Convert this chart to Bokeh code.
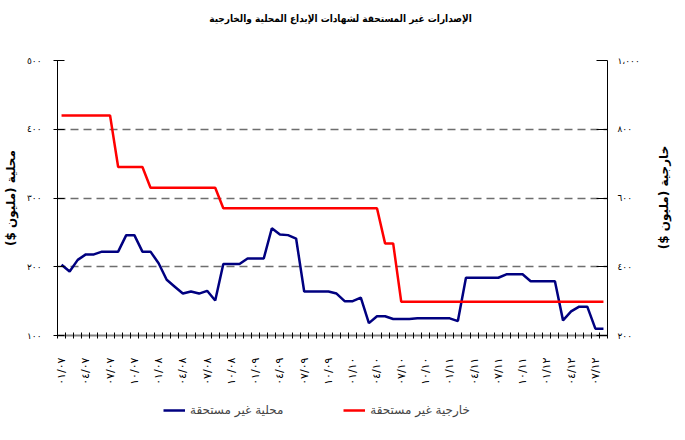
import math
from bokeh.plotting import figure
from bokeh.layouts import column, row
from bokeh.models import Range1d, LinearAxis, FixedTicker, Legend, LegendItem, Label
from bokeh.embed import file_html
from bokeh.resources import INLINE

# Monthly data, Jan 2007 .. Aug 2012
months = list(range(68))
local_vals = [203, 193, 210, 218, 218, 222, 222, 222, 246, 246, 222, 222,
              205, 181, 171, 161, 164, 161, 165, 151, 204, 204, 204, 212,
              212, 212, 256, 247, 246, 241, 164, 164, 164, 164, 161, 150,
              150, 155, 118, 128, 128, 124, 124, 124, 125, 125, 125, 125,
              125, 121, 184, 184, 184, 184, 184, 189, 189, 189, 179, 179,
              179, 179, 122, 135, 142, 142, 110, 110]
foreign_vals = [840, 840, 840, 840, 840, 840, 840, 690, 690, 690, 690, 630,
                630, 630, 630, 630, 630, 630, 630, 630, 570, 570, 570, 570,
                570, 570, 570, 570, 570, 570, 570, 570, 570, 570, 570, 570,
                570, 570, 570, 570, 468, 468, 298, 298, 298, 298, 298, 298,
                298, 298, 298, 298, 298, 298, 298, 298, 298, 298, 298, 298,
                298, 298, 298, 298, 298, 298, 298, 298]

quarter_pos = list(range(0, 67, 3))
quarter_labels = ["٠١/٠٧", "٠٤/٠٧", "٠٧/٠٧", "١٠/٠٧",
                  "٠١/٠٨", "٠٤/٠٨", "٠٧/٠٨", "١٠/٠٨",
                  "٠١/٠٩", "٠٤/٠٩", "٠٧/٠٩", "١٠/٠٩",
                  "٠١/١٠", "٠٤/١٠", "٠٧/١٠", "١٠/١٠",
                  "٠١/١١", "٠٤/١١", "٠٧/١١", "١٠/١١",
                  "٠١/١٢", "٠٤/١٢", "٠٧/١٢"]
left_ticks = [100, 200, 300, 400, 500]
left_labels = ["١٠٠", "٢٠٠", "٣٠٠", "٤٠٠", "٥٠٠"]
right_ticks = [200, 400, 600, 800, 1000]
right_labels = ["٢٠٠", "٤٠٠", "٦٠٠", "٨٠٠", "١،٠٠٠"]

title_text = "الإصدارات غير المستحقة لشهادات الإيداع المحلية والخارجية"
left_title = "محلية (مليون $)"
right_title = "خارجية (مليون $)"
local_name = "محلية غير مستحقة"
foreign_name = "خارجية غير مستحقة"

FONT = "DejaVu Sans"
TFONT = "DejaVu Sans Condensed"
W = 680
H_TOP, H_MAIN, H_LEG = 36, 356, 40
W_MAIN, W_RLAB = 650, 30
BORDER_BOTTOM = H_MAIN - (335 - H_TOP)


def blank_fig(width, height):
    f = figure(width=width, height=height, x_range=Range1d(0, 1), y_range=Range1d(0, 1),
               output_backend="svg", toolbar_location=None,
               x_axis_location=None, y_axis_location=None, min_border=0)
    f.outline_line_color = None
    f.xgrid.visible = False
    f.ygrid.visible = False
    return f


# ---- title strip
t = blank_fig(W, H_TOP)
t.add_layout(Label(x=340, y=18, x_units="screen", y_units="screen", text=title_text,
                   text_align="center", text_baseline="middle", text_font=TFONT,
                   text_font_size="10px", text_font_style="bold", text_color="black"))

# ---- main chart
p = figure(width=W_MAIN, height=H_MAIN, x_range=Range1d(-0.5, 67.5), y_range=Range1d(100, 500),
           output_backend="svg", toolbar_location=None,
           min_border_left=57, min_border_right=W_MAIN - 607, min_border_top=60 - H_TOP,
           min_border_bottom=BORDER_BOTTOM)
p.outline_line_color = None
p.extra_y_ranges = {"right": Range1d(200, 1000)}

# x axis
xa = p.xaxis[0]
xa.ticker = FixedTicker(ticks=quarter_pos, minor_ticks=[i - 0.5 for i in range(69)])
xa.major_label_overrides = {pos: lab for pos, lab in zip(quarter_pos, quarter_labels)}
xa.major_label_orientation = math.pi / 2
xa.major_tick_line_color = None
xa.major_tick_in = 0
xa.major_tick_out = 0
xa.minor_tick_in = 3
xa.minor_tick_out = 3
xa.minor_tick_line_color = "black"
xa.axis_line_color = "#808080"
xa.axis_line_width = 2
xa.major_label_standoff = 19
xa.major_label_text_font = FONT
xa.major_label_text_font_size = "11px"
xa.major_label_text_color = "black"

# left axis
ya = p.yaxis[0]
ya.ticker = FixedTicker(ticks=left_ticks)
ya.major_label_overrides = {t_: l for t_, l in zip(left_ticks, left_labels)}
ya.major_tick_in = 7
ya.major_tick_out = 4
ya.minor_tick_line_color = None
ya.axis_line_color = "black"
ya.major_label_standoff = 12
ya.major_label_text_font = FONT
ya.major_label_text_font_size = "9px"
ya.major_label_text_color = "black"
ya.axis_label = left_title
ya.axis_label_text_font = FONT
ya.axis_label_text_font_size = "12px"
ya.axis_label_text_font_style = "bold"
ya.axis_label_text_color = "black"
ya.axis_label_standoff = 6

# right axis
ra = LinearAxis(y_range_name="right", ticker=FixedTicker(ticks=right_ticks))
ra.major_label_overrides = {t_: l for t_, l in zip(right_ticks, right_labels)}
ra.major_tick_in = 11
ra.major_tick_out = 0
ra.minor_tick_line_color = None
ra.axis_line_color = "black"
ra.major_label_standoff = 10
ra.major_label_text_font = FONT
ra.major_label_text_font_size = "9px"
ra.major_label_text_color = "black"
p.add_layout(ra, "right")

# grid
p.xgrid.visible = False
p.ygrid.ticker = FixedTicker(ticks=[200, 300, 400, 500])
p.ygrid.grid_line_color = "#6e6e6e"
p.ygrid.grid_line_dash = "8 5"
p.ygrid.grid_line_width = 1.5

# lines
r_local = p.line(months, local_vals, line_color="#000080", line_width=2.5)
r_foreign = p.line(months, foreign_vals, line_color="#ff0000", line_width=2.5,
                   y_range_name="right")

# ---- right axis title strip (its frame is aligned with the main frame: 60..335)
rl = blank_fig(W_RLAB, H_MAIN)
rl.add_layout(Label(x=13, y=335 - 197, x_units="screen", y_units="screen",
                    text=right_title, angle=90, angle_units="deg",
                    text_align="center", text_baseline="middle", text_font=FONT,
                    text_font_size="12px", text_font_style="bold", text_color="black"))

# ---- legend strip (legend-only renderers sit outside the visible range)
q = blank_fig(W, H_LEG)
l1 = q.line([5, 6], [5, 6], line_color="#000080", line_width=2.5)
l2 = q.line([5, 6], [5, 6], line_color="#ff0000", line_width=2.5)
legend = Legend(items=[LegendItem(label=local_name, renderers=[l1]),
                       LegendItem(label=foreign_name, renderers=[l2])],
                orientation="horizontal", location=(163, 12), spacing=60,
                glyph_width=22, label_standoff=5, padding=0, margin=0,
                label_text_font=FONT, label_text_font_size="12px",
                border_line_color=None, background_fill_alpha=0)
q.add_layout(legend)

layout = column(t, row(p, rl, spacing=0), q, spacing=0)
open("out.html", "w").write(file_html(layout, INLINE))
